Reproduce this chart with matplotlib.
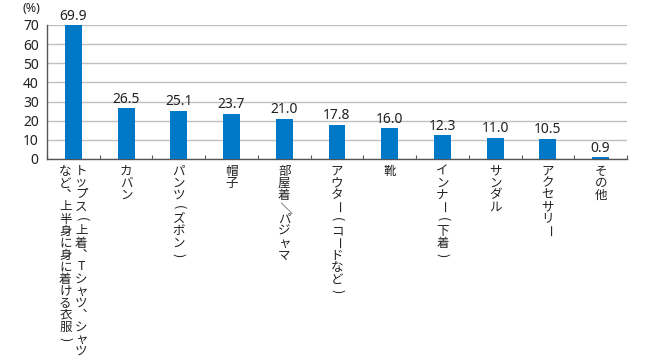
import matplotlib
matplotlib.use('Agg')
import matplotlib.pyplot as plt
from matplotlib.ticker import MultipleLocator, FixedLocator

plt.rcParams['font.family'] = ['Noto Sans CJK JP', 'DejaVu Sans']

# data
labels = ["トップス(上着、Tシャツ、シャツなど、上半身に身に着ける衣服)",
          "カバン", "パンツ(ズボン)", "帽子", "部屋着／パジャマ",
          "アウター(コードなど)", "靴", "インナー(下着)", "サンダル",
          "アクセサリー", "その他"]
values = [69.9, 26.5, 25.1, 23.7, 21.0, 17.8, 16.0, 12.3, 11.0, 10.5, 0.9]

BLUE = '#0078C8'
NUMFONT = ['Noto Sans', 'DejaVu Sans']
COLLEN = 16          # characters per vertical column
STEP = 12 * 0.72     # vertical step between characters (points)
ROTATED = 'ー()／'   # characters turned for vertical writing


def vertical_label(ax, x, text):
    cols = [text[i:i + COLLEN] for i in range(0, len(text), COLLEN)]
    ncol = len(cols)
    for c, col in enumerate(cols):
        # first column on the right, following ones to the left
        dx = ((ncol - 1) / 2 - c) * 16 * 0.72
        for k, ch in enumerate(col):
            rot = -90 if ch in ROTATED else 0
            dy = -(12 * 0.72 + k * STEP)
            if ch == '、':
                ch = '︑'
            ax.annotate(ch, xy=(x, 0), xycoords=('data', 'axes fraction'),
                        xytext=(dx, dy), textcoords='offset points',
                        ha='center', va='center', rotation=rot,
                        fontsize=9, color='#222222')


fig = plt.figure(figsize=(6.5, 3.6), dpi=100)
ax = fig.add_axes([47 / 650, 1 - 159 / 360, 580 / 650, 134 / 360])

x = list(range(len(values)))
ax.bar(x, values, width=0.32, color=BLUE, zorder=3)
for i, v in enumerate(values):
    ax.text(i, v + 0.8, f'{v:.1f}', ha='center', va='bottom',
            fontsize=10, color='#222222', family=NUMFONT)

ax.set_xlim(-0.5, len(values) - 0.5)
ax.set_ylim(0, 70)
ax.yaxis.set_major_locator(MultipleLocator(10))
ax.grid(axis='y', color='#c0c0c0', linewidth=1, zorder=0)
ax.tick_params(axis='y', length=0, pad=6, labelsize=10, labelcolor='#222222')
for t in ax.get_yticklabels():
    t.set_family(NUMFONT)

ax.set_xticks([])
ax.xaxis.set_minor_locator(FixedLocator([i + 0.5 for i in range(-1, len(values))]))
ax.tick_params(axis='x', which='minor', direction='in', length=3,
               color='#555555', width=0.8)

for s in ['top', 'right']:
    ax.spines[s].set_visible(False)
for s in ['left', 'bottom']:
    ax.spines[s].set_color('#555555')
    ax.spines[s].set_linewidth(1)

for i, lab in enumerate(labels):
    vertical_label(ax, i, lab)

fig.text(31 / 650, 1 - 9 / 360, '(%)', ha='center', va='center',
         fontsize=9, color='#222222', family=NUMFONT)

fig.savefig('out.png', dpi=100)
